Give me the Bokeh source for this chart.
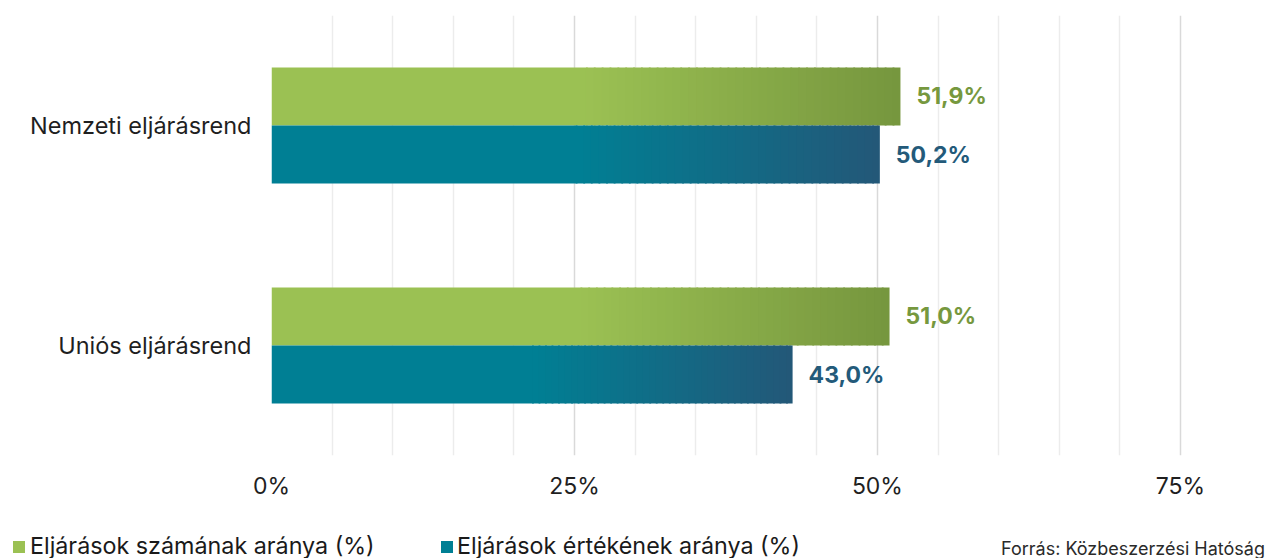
import numpy as np
from bokeh.plotting import figure
from bokeh.models import ColumnDataSource, Range1d, FactorRange, FixedTicker, Div
from bokeh.layouts import column
from bokeh.transform import dodge
from bokeh.core.properties import value
from bokeh.embed import file_html
from bokeh.resources import INLINE

# ---- data ----
categories = ["Nemzeti eljárásrend", "Uniós eljárásrend"]
series_names = ["Eljárások számának aránya (%)", "Eljárások értékének aránya (%)"]
count_share = [51.9, 51.0]   # Eljárások számának aránya (%)
value_share = [50.2, 43.0]   # Eljárások értékének aránya (%)
x_ticks = [0, 25, 50, 75]
x_tick_labels = ["0%", "25%", "50%", "75%"]
minor_ticks = [5, 10, 15, 20, 30, 35, 40, 45, 55, 60, 65, 70]
source_note = "Forrás: Közbeszerzési Hatóság"

# ---- styles ----
FONT = "Inter"
green_start, green_end = "#9bc153", "#76963e"
teal_start, teal_end = "#007f94", "#235878"
green_text, teal_text = "#76983e", "#235a7a"
BAR_H = 0.264
OFF = 0.132


def rgb(h):
    h = h.lstrip("#")
    return np.array([int(h[i:i + 2], 16) for i in (0, 2, 4)], dtype=float)


def mix(a, b, t):
    c = rgb(a) * (1 - t) + rgb(b) * t
    return "#%02x%02x%02x" % tuple(int(round(v)) for v in c)


def gradient_slices(cats, vals, c0, c1, n=40, start=0.5, overlap=0.15):
    cat, left, right, color = [], [], [], []
    for c, v in zip(cats, vals):
        cat.append(c); left.append(0); right.append(v * start + overlap); color.append(c0)
        edges = np.linspace(v * start, v, n + 1)
        for k in range(n):
            r = edges[k + 1] + (overlap if k < n - 1 else 0)
            cat.append(c); left.append(edges[k]); right.append(r)
            color.append(mix(c0, c1, (k + 0.5) / n))
    return ColumnDataSource(dict(cat=cat, left=left, right=right, color=color))


p = figure(width=1269, height=512, output_backend="svg", toolbar_location=None,
           x_range=Range1d(0, 76),
           y_range=FactorRange(factors=categories[::-1], range_padding=0),
           min_border_left=271, min_border_right=77, min_border_top=15,
           min_border_bottom=57)
p.outline_line_color = None
p.background_fill_color = "white"
p.border_fill_color = "white"

# grid
p.xaxis.ticker = FixedTicker(ticks=x_ticks, minor_ticks=minor_ticks)
p.xgrid.grid_line_color = "#d9d9d9"
p.xgrid.grid_line_width = 1.5
p.xgrid.minor_grid_line_color = "#ececec"
p.xgrid.minor_grid_line_width = 1.5
p.ygrid.grid_line_color = None

# bars (gradient approximated by thin slices)
g_src = gradient_slices(categories, count_share, green_start, green_end)
t_src = gradient_slices(categories, value_share, teal_start, teal_end)
p.hbar(y=dodge("cat", OFF, range=p.y_range), left="left", right="right", height=BAR_H,
       fill_color="color", line_color=None, source=g_src)
p.hbar(y=dodge("cat", -OFF, range=p.y_range), left="left", right="right", height=BAR_H,
       fill_color="color", line_color=None, source=t_src)

# value labels
def fmt(v):
    return ("%.1f" % v).replace(".", ",") + "%"

lab_g = ColumnDataSource(dict(cat=categories, x=count_share, t=[fmt(v) for v in count_share]))
lab_t = ColumnDataSource(dict(cat=categories, x=value_share, t=[fmt(v) for v in value_share]))
for src, dy, col in ((lab_g, OFF, green_text), (lab_t, -OFF, teal_text)):
    p.text(x="x", y=dodge("cat", dy, range=p.y_range), text="t", source=src,
           x_offset=16, text_align="left", text_baseline="middle",
           text_font=value(FONT), text_font_style="bold", text_font_size="23px",
           text_color=col)

# axes
p.xaxis.axis_line_color = None
p.xaxis.major_tick_line_color = None
p.xaxis.minor_tick_line_color = None
p.xaxis.major_tick_out = 0
p.xaxis.major_label_overrides = {t: l for t, l in zip(x_ticks, x_tick_labels)}
p.xaxis.major_label_text_font = FONT
p.xaxis.major_label_text_font_size = "23px"
p.xaxis.major_label_text_color = "#1f1f1f"
p.xaxis.major_label_standoff = 12

p.yaxis.axis_line_color = None
p.yaxis.major_tick_line_color = None
p.yaxis.minor_tick_line_color = None
p.yaxis.major_tick_out = 0
p.yaxis.major_label_text_font = FONT
p.yaxis.major_label_text_font_size = "23.5px"
p.yaxis.major_label_text_color = "#1f1f1f"
p.yaxis.major_label_standoff = 20

# ---- legend strip (HTML) ----
def sq(left, color):
    return (f'<span style="position:absolute;left:{left}px;top:29px;width:12px;'
            f'height:12px;background:{color};"></span>')


def txt(left, s):
    return (f'<span style="position:absolute;left:{left}px;top:22px;font-size:23.3px;'
            f'line-height:23px;white-space:nowrap;color:#1a1a1a;">{s}</span>')


legend_html = (
    f'<div style="position:relative;width:1269px;height:46px;font-family:{FONT};'
    f'overflow:visible;">'
    + sq(13, green_start) + txt(30, series_names[0])
    + sq(441, teal_start) + txt(457, series_names[1])
    + f'<span style="position:absolute;right:4px;top:28px;font-size:18px;line-height:18px;'
      f'white-space:nowrap;color:#2a2a2a;">{source_note}</span>'
    + '</div>'
)
legend = Div(text=legend_html, width=1269, height=46, margin=0)

layout = column(p, legend, spacing=0)
open("out.html", "w").write(file_html(layout, INLINE))
